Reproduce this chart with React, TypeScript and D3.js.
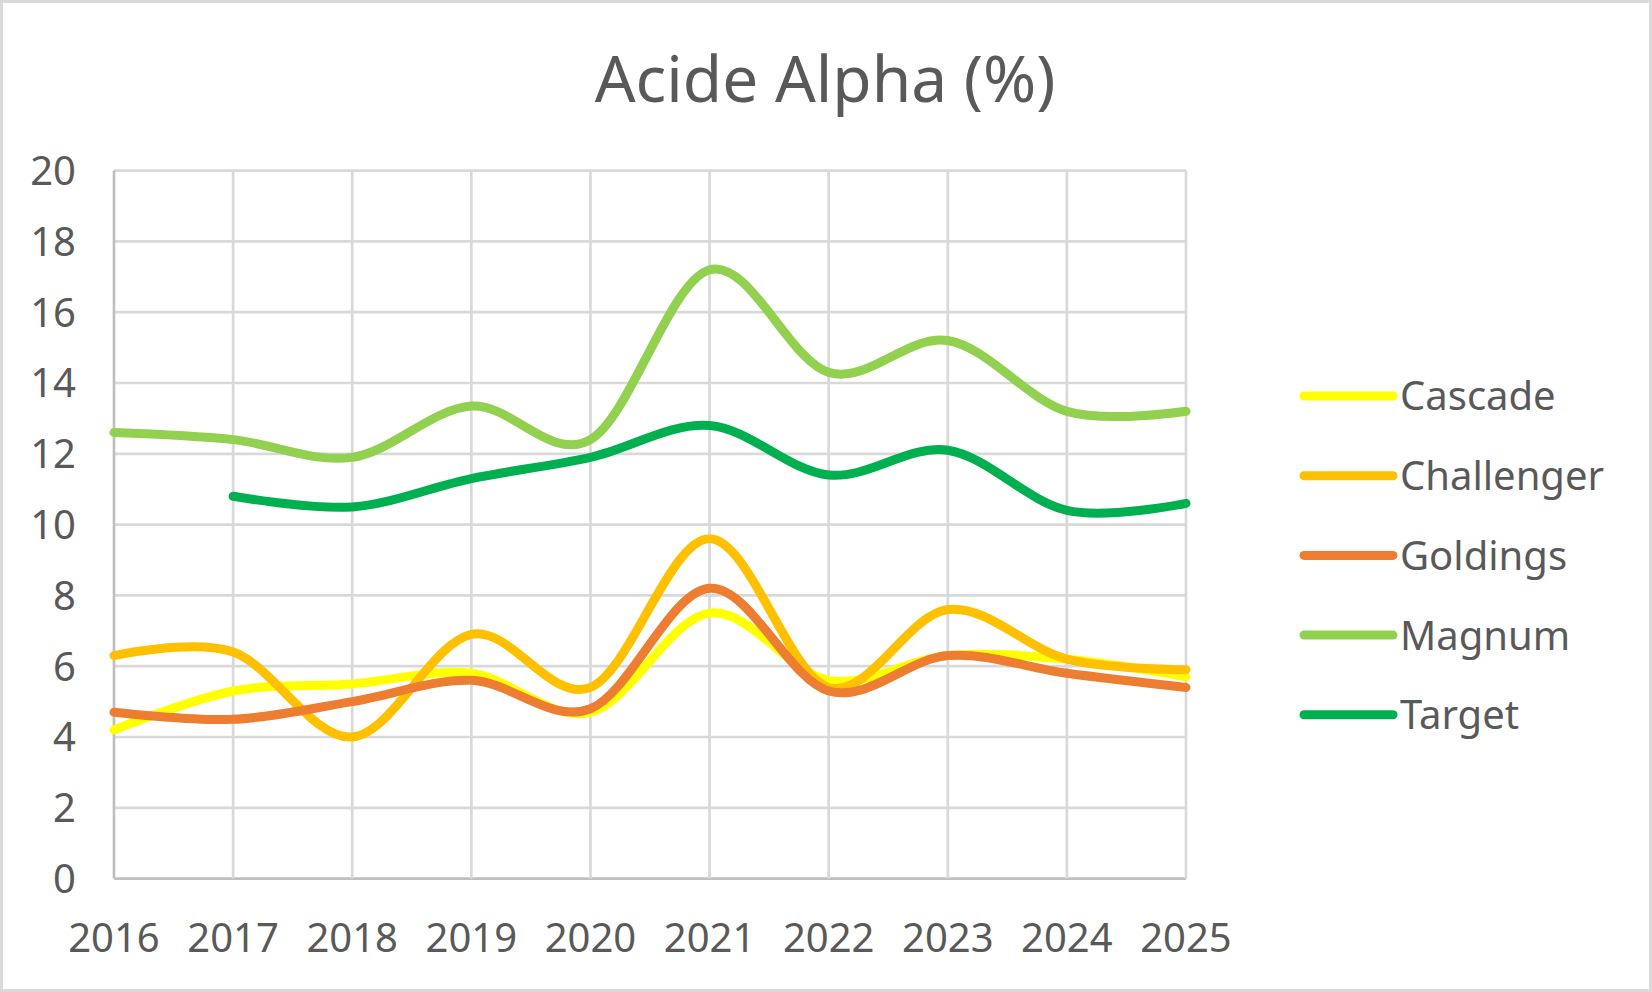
import { useRef, useEffect } from 'react';
import { select, scalePoint, scaleLinear, line, curveCardinal, range } from 'd3';

const years = ['2016', '2017', '2018', '2019', '2020', '2021', '2022', '2023', '2024', '2025'];
const yTicks = [0, 2, 4, 6, 8, 10, 12, 14, 16, 18, 20];

const cascade = [4.2, 5.3, 5.5, 5.8, 4.7, 7.5, 5.6, 6.3, 6.2, 5.7];
const challenger = [6.3, 6.4, 4.0, 6.9, 5.4, 9.6, 5.4, 7.6, 6.2, 5.9];
const goldings = [4.7, 4.5, 5.0, 5.6, 4.8, 8.2, 5.3, 6.3, 5.8, 5.4];
const magnum = [12.6, 12.4, 11.9, 13.35, 12.4, 17.2, 14.3, 15.2, 13.2, 13.2];
const target = [null, 10.8, 10.5, 11.3, 11.9, 12.8, 11.4, 12.1, 10.4, 10.6];

const seriesNames = ['Cascade', 'Challenger', 'Goldings', 'Magnum', 'Target'];
const seriesColors = ['#FFFF00', '#FFC000', '#ED7D31', '#92D050', '#00B050'];
const seriesValues: (number | null)[][] = [cascade, challenger, goldings, magnum, target];

const WIDTH = 1652;
const HEIGHT = 992;
const FONT = '"Noto Sans", "Open Sans", sans-serif';
const TEXT_COLOR = '#595959';

export default function App() {
  const svgRef = useRef<SVGSVGElement>(null);

  useEffect(() => {
    if (!svgRef.current) return;
    const svg = select(svgRef.current);
    svg.selectAll('*').remove();

    const left = 114;
    const right = 1186;
    const top = 170.6;
    const bottom = 878.6;

    const x = scalePoint<string>().domain(years).range([left, right]).padding(0);
    const y = scaleLinear().domain([0, 20]).range([bottom, top]);

    // background + outer border
    svg.append('rect')
      .attr('x', 1.5)
      .attr('y', 1.5)
      .attr('width', WIDTH - 3)
      .attr('height', HEIGHT - 3)
      .attr('fill', '#ffffff')
      .attr('stroke', '#d9d9d9')
      .attr('stroke-width', 3);

    // title
    svg.append('text')
      .attr('x', 825)
      .attr('y', 102)
      .attr('text-anchor', 'middle')
      .attr('font-family', FONT)
      .attr('font-size', 64)
      .attr('fill', TEXT_COLOR)
      .text('Acide Alpha (%)');

    // horizontal grid
    svg.selectAll('.hgrid')
      .data(yTicks)
      .enter()
      .append('line')
      .attr('x1', left)
      .attr('x2', right)
      .attr('y1', (d) => y(d))
      .attr('y2', (d) => y(d))
      .attr('stroke', (d) => (d === 0 ? '#bfbfbf' : '#d9d9d9'))
      .attr('stroke-width', 2.7);

    // vertical grid
    svg.selectAll('.vgrid')
      .data(years)
      .enter()
      .append('line')
      .attr('x1', (d) => x(d) || 0)
      .attr('x2', (d) => x(d) || 0)
      .attr('y1', top)
      .attr('y2', bottom)
      .attr('stroke', (d, i) => (i === 0 ? '#bfbfbf' : '#d9d9d9'))
      .attr('stroke-width', 2.7);

    // y tick labels
    svg.selectAll('.ylab')
      .data(yTicks)
      .enter()
      .append('text')
      .attr('x', 76)
      .attr('y', (d) => y(d))
      .attr('dy', '0.36em')
      .attr('text-anchor', 'end')
      .attr('font-family', FONT)
      .attr('font-size', 40)
      .attr('fill', TEXT_COLOR)
      .text((d) => String(d));

    // x tick labels
    svg.selectAll('.xlab')
      .data(years)
      .enter()
      .append('text')
      .attr('x', (d) => x(d) || 0)
      .attr('y', 952)
      .attr('text-anchor', 'middle')
      .attr('font-family', FONT)
      .attr('font-size', 40)
      .attr('fill', TEXT_COLOR)
      .text((d) => d);

    // series (Excel-style smoothed lines)
    const gen = line<number | null>()
      .defined((d) => d !== null)
      .x((_, i) => x(years[i]) || 0)
      .y((d) => y(d as number))
      .curve(curveCardinal.tension(0));

    seriesValues.forEach((vals, si) => {
      svg.append('path')
        .datum(vals)
        .attr('fill', 'none')
        .attr('stroke', seriesColors[si])
        .attr('stroke-width', 9)
        .attr('stroke-linecap', 'round')
        .attr('stroke-linejoin', 'round')
        .attr('d', gen);
    });

    // legend
    const legendY = (i: number) => 396 + i * 79.7;
    const legend = svg.append('g');
    range(seriesNames.length).forEach((i) => {
      legend.append('line')
        .attr('x1', 1304)
        .attr('x2', 1393)
        .attr('y1', legendY(i))
        .attr('y2', legendY(i))
        .attr('stroke', seriesColors[i])
        .attr('stroke-width', 9)
        .attr('stroke-linecap', 'round');
      legend.append('text')
        .attr('x', 1400)
        .attr('y', legendY(i))
        .attr('dy', '0.36em')
        .attr('font-family', FONT)
        .attr('font-size', 40)
        .attr('fill', TEXT_COLOR)
        .text(seriesNames[i]);
    });
  }, []);

  return (
    <div style={{ position: 'absolute', left: 0, top: 0 }}>
      <svg ref={svgRef} width={WIDTH} height={HEIGHT} />
    </div>
  );
}
